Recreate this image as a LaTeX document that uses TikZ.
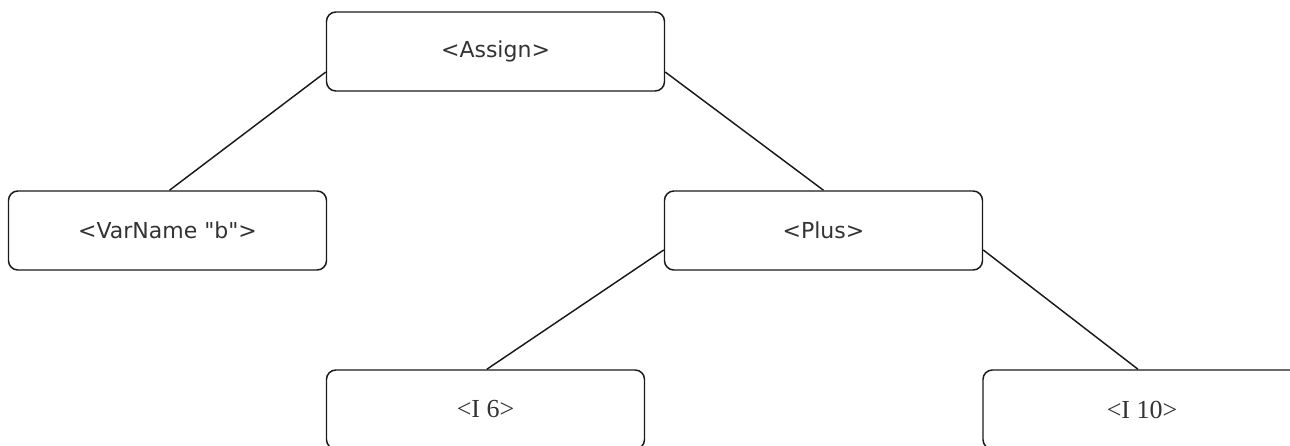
\documentclass[tikz,border=0pt]{standalone}
\usepackage{fontspec}
\newfontfamily\treesans{DejaVu Sans}
\newfontfamily\treeserif{Liberation Serif}
\definecolor{treetext}{HTML}{333333}
\definecolor{treeline}{HTML}{1A1A1A}

\begin{document}
\begin{tikzpicture}[
  x=0.75pt, y=-0.75pt,
  box/.style={rectangle, draw=treeline, line width=1.1pt, rounded corners=7pt, text centered,
    minimum width=238.5pt, minimum height=59.25pt, text=treetext, font=\treesans\fontsize{16.5}{19}\selectfont},
  leafbox/.style={box, font=\treeserif\fontsize{19.5}{22}\selectfont},
  edge/.style={draw=treeline, line width=1.1pt}
]
\useasboundingbox (0,0) rectangle (1290,446);

% Root
\node[box, minimum width=253.5pt] (assign) at (495.5, 51.5) {<Assign>};

% Middle level
\node[box] (varname) at (167.5, 230.5) {<VarName "b">};
\node[box] (plus) at (823.5, 230.5) {<Plus>};

% Leaves
\node[leafbox] (isix) at (485.5, 409.5) {<I 6>};
\node[leafbox] (iten) at (1142, 409.5) {<I 10>};

% Edges
\draw[edge] ([yshift=-15.4pt]assign.west) -- ([xshift=1.5pt]varname.north);
\draw[edge] ([yshift=-15.4pt]assign.east) -- (plus.north);
\draw[edge] ([yshift=-14.6pt]plus.west) -- ([xshift=1pt]isix.north);
\draw[edge] ([yshift=-14.6pt]plus.east) -- ([xshift=-3pt]iten.north);

\end{tikzpicture}
\end{document}
